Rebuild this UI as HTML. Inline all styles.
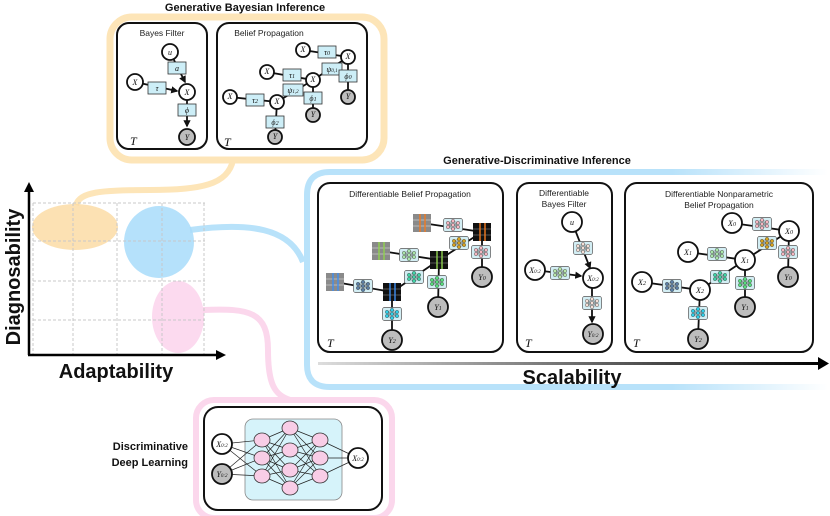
<!DOCTYPE html>
<html><head><meta charset="utf-8"><style>
html,body{margin:0;padding:0;background:#fff}
svg{display:block}
.h{font-family:"Liberation Sans",sans-serif;font-weight:bold;font-size:11px;fill:#111}
.t{font-family:"Liberation Sans",sans-serif;font-size:8.5px;fill:#222}
.big{font-family:"Liberation Sans",sans-serif;font-weight:bold;font-size:20px;fill:#111}
.v{font-family:"Liberation Serif",serif;font-style:italic;font-size:8px;fill:#111}
.T{font-family:"Liberation Serif",serif;font-style:italic;font-size:12px;fill:#111}
.n{fill:#fff;stroke:#111;stroke-width:1.8}
.o{fill:#bdbdbd;stroke:#111;stroke-width:1.8}
.e{stroke:#111;stroke-width:1.8;fill:none}
.f{fill:#cdeef7;stroke:#333;stroke-width:0.8}
.box{fill:#fff;stroke:#111;stroke-width:2}
.g{stroke:#c8c8c8;stroke-width:1;stroke-dasharray:3,2;fill:none}
</style></head><body>
<svg width="830" height="516" viewBox="0 0 830 516" xmlns="http://www.w3.org/2000/svg">
<defs>
<marker id="ar" viewBox="0 0 10 10" refX="8" refY="5" markerWidth="4" markerHeight="4" orient="auto"><path d="M0,0L10,5L0,10z" fill="#111"/></marker>
<symbol id="nn" viewBox="0 0 20 14" width="20" height="14">
<rect x="0.5" y="0.5" width="19" height="13" rx="2" fill="#d3eef4" stroke="#555" stroke-width="0.7"/>
<g stroke="#333" stroke-width="0.4"><path d="M5,5L10,3M5,5L10,7M5,5L10,11M5,9L10,3M5,9L10,7M5,9L10,11M10,3L15,5M10,7L15,5M10,11L15,5M10,3L15,9M10,7L15,9M10,11L15,9"/></g>
<g fill="currentColor" stroke="#333" stroke-width="0.4"><circle cx="5" cy="5" r="1.7"/><circle cx="5" cy="9" r="1.7"/><circle cx="10" cy="3" r="1.7"/><circle cx="10" cy="7" r="1.7"/><circle cx="10" cy="11" r="1.7"/><circle cx="15" cy="5" r="1.7"/><circle cx="15" cy="9" r="1.7"/></g>
</symbol>
<symbol id="cg" viewBox="0 0 18 18" width="18" height="18">
<rect x="0" y="0" width="18" height="18" fill="#8a8a8a"/>
<path d="M0,6H18M0,12H18" stroke="#bbb" stroke-width="1"/>
<path d="M7,0V18M12,0V18" stroke="currentColor" stroke-width="1.4"/>
</symbol>
<symbol id="cb" viewBox="0 0 18 18" width="18" height="18">
<rect x="0" y="0" width="18" height="18" fill="#111"/>
<path d="M0,6H18M0,12H18" stroke="#555" stroke-width="1"/>
<path d="M7,0V18M12,0V18" stroke="currentColor" stroke-width="1.4"/>
</symbol>
<linearGradient id="sg" x1="0" x2="1"><stop offset="0" stop-color="#ddd"/><stop offset="1" stop-color="#000"/></linearGradient>
<linearGradient id="bg" x1="0" x2="1"><stop offset="0.7" stop-color="#b8e2fa"/><stop offset="1" stop-color="#b8e2fa" stop-opacity="0"/></linearGradient>
</defs>

<rect x="110" y="17" width="274" height="143" rx="22" fill="none" stroke="#fde5b8" stroke-width="7"/>
<path d="M233,160 C228,185 200,190 150,190 C100,190 80,192 76,205" fill="none" stroke="#fde5b8" stroke-width="6"/>
<path d="M828,172 H330 Q307,172 307,195 V365 Q307,387 330,387 H828" fill="none" stroke="url(#bg)" stroke-width="6"/>
<path d="M190,230 C250,222 290,228 303,262" fill="none" stroke="#b8e2fa" stroke-width="6"/>
<path d="M203,310 C250,308 268,312 268,350 C268,385 275,395 290,400" fill="none" stroke="#fbd7ec" stroke-width="6"/>
<rect x="196" y="400" width="196" height="118" rx="18" fill="none" stroke="#fbd7ec" stroke-width="6"/>

<text class="h" x="245" y="11" text-anchor="middle">Generative Bayesian Inference</text>
<text class="h" x="537" y="164" text-anchor="middle">Generative-Discriminative Inference</text>

<rect class="box" x="117" y="23" width="90" height="126" rx="12"/>
<text class="t" x="162" y="36" text-anchor="middle">Bayes Filter</text>
<line class="e" x1="170" y1="52" x2="185" y2="82" marker-end="url(#ar)"/>
<line class="e" x1="135" y1="82" x2="177" y2="91" marker-end="url(#ar)"/>
<line class="e" x1="187" y1="92" x2="187" y2="126" marker-end="url(#ar)"/>
<rect class="f" x="168" y="62" width="18" height="12"/><text class="v" x="177" y="71" text-anchor="middle" font-size="10">a</text>
<rect class="f" x="148" y="82" width="18" height="12"/><text class="v" x="157" y="91" text-anchor="middle" font-size="10">τ</text>
<rect class="f" x="178" y="104" width="18" height="12"/><text class="v" x="187" y="113" text-anchor="middle" font-size="10">ϕ</text>
<circle class="n" cx="170" cy="52" r="8"/><text class="v" x="170" y="55" text-anchor="middle">u</text>
<circle class="n" cx="135" cy="82" r="8"/><text class="v" x="135" y="85" text-anchor="middle" font-size="6">X</text>
<circle class="n" cx="187" cy="92" r="8"/><text class="v" x="187" y="95" text-anchor="middle" font-size="6">X</text>
<circle class="o" cx="187" cy="137" r="8"/><text class="v" x="187" y="140" text-anchor="middle" font-size="6">Y</text>
<text class="T" x="130" y="145">T</text>

<rect class="box" x="217" y="23" width="150" height="126" rx="12"/>
<text class="t" x="269" y="36" text-anchor="middle">Belief Propagation</text>
<path class="e" d="M303,50L348,57L348,97M348,57L313,80L267,72M313,80L313,115M313,80L277,102L230,97M277,102L275,137"/>
<rect class="f" x="318" y="46" width="18" height="12"/><text class="v" x="327" y="55" text-anchor="middle" font-size="9">τ<tspan font-size="6">0</tspan></text>
<rect class="f" x="322" y="63" width="20" height="12"/><text class="v" x="332" y="72" text-anchor="middle" font-size="8">ψ<tspan font-size="5">0,1</tspan></text>
<rect class="f" x="339" y="70" width="18" height="12"/><text class="v" x="348" y="79" text-anchor="middle" font-size="9">ϕ<tspan font-size="6">0</tspan></text>
<rect class="f" x="283" y="69" width="18" height="12"/><text class="v" x="292" y="78" text-anchor="middle" font-size="9">τ<tspan font-size="6">1</tspan></text>
<rect class="f" x="283" y="84" width="20" height="12"/><text class="v" x="293" y="93" text-anchor="middle" font-size="8">ψ<tspan font-size="5">1,2</tspan></text>
<rect class="f" x="304" y="92" width="18" height="12"/><text class="v" x="313" y="101" text-anchor="middle" font-size="9">ϕ<tspan font-size="6">1</tspan></text>
<rect class="f" x="246" y="94" width="18" height="12"/><text class="v" x="255" y="103" text-anchor="middle" font-size="9">τ<tspan font-size="6">2</tspan></text>
<rect class="f" x="266" y="116" width="18" height="12"/><text class="v" x="275" y="125" text-anchor="middle" font-size="9">ϕ<tspan font-size="6">2</tspan></text>
<circle class="n" cx="303" cy="50" r="7"/><circle class="n" cx="348" cy="57" r="7"/><circle class="o" cx="348" cy="97" r="7"/>
<circle class="n" cx="267" cy="72" r="7"/><circle class="n" cx="313" cy="80" r="7"/><circle class="o" cx="313" cy="115" r="7"/>
<circle class="n" cx="230" cy="97" r="7"/><circle class="n" cx="277" cy="102" r="7"/><circle class="o" cx="275" cy="137" r="7"/>
<g class="v" font-size="6" text-anchor="middle"><text x="303" y="52">X</text><text x="348" y="59">X</text><text x="348" y="99">Y</text><text x="267" y="74">X</text><text x="313" y="82">X</text><text x="313" y="117">Y</text><text x="230" y="99">X</text><text x="277" y="104">X</text><text x="275" y="139">Y</text></g>
<text class="T" x="224" y="146">T</text>

<ellipse cx="75" cy="227" rx="43" ry="23" fill="#fbd9a0" opacity="0.8"/>
<ellipse cx="159" cy="242" rx="35" ry="36" fill="#a8dcfa" opacity="0.85"/>
<ellipse cx="178" cy="317" rx="26" ry="36" fill="#fbd3ec" opacity="0.85"/>
<g class="g"><path d="M33,203V354M73,203V354M117,203V354M162,203V354M204,203V354M33,203H205M33,241H205M33,281H205M33,320H205"/></g>
<path d="M29,355V190M28,355H218" stroke="#000" stroke-width="2.5" fill="none"/>
<path d="M24,192L29,182L34,192z M216,350L226,355L216,360z" fill="#000"/>
<text class="big" transform="translate(20,277) rotate(-90)" text-anchor="middle">Diagnosability</text>
<text class="big" x="116" y="378" text-anchor="middle">Adaptability</text>

<rect x="318" y="362" width="505" height="3" fill="url(#sg)"/>
<path d="M818,357L829,363.5L818,370z" fill="#000"/>
<text class="big" x="572" y="384" text-anchor="middle">Scalability</text>

<rect class="box" x="318" y="183" width="185" height="169" rx="12"/>
<text class="t" x="410" y="197" text-anchor="middle">Differentiable Belief Propagation</text>
<path class="e" d="M422,223L482,232L482,275M482,232L439,260L381,251M439,260L438,307M439,260L392,292L335,282M392,292L392,338"/>
<use href="#cg" x="413" y="214" style="color:#f07a20"/><use href="#cb" x="473" y="223" style="color:#f07a20"/>
<use href="#cg" x="372" y="242" style="color:#8fd14f"/><use href="#cb" x="430" y="251" style="color:#8fd14f"/>
<use href="#cg" x="326" y="273" style="color:#3e8ef0"/><use href="#cb" x="383" y="283" style="color:#3e8ef0"/>
<use href="#nn" x="443" y="218" style="color:#f6b6c0"/><use href="#nn" x="449" y="236" style="color:#d9a21b"/><use href="#nn" x="471" y="245" style="color:#f6b6c0"/>
<use href="#nn" x="399" y="248" style="color:#a9e6a9"/><use href="#nn" x="404" y="270" style="color:#3fd6a8"/><use href="#nn" x="427" y="275" style="color:#55e07a"/>
<use href="#nn" x="353" y="279" style="color:#5a7fa6"/><use href="#nn" x="382" y="307" style="color:#2ad0ea"/>
<circle class="o" cx="482" cy="277" r="10"/><circle class="o" cx="438" cy="307" r="10"/><circle class="o" cx="392" cy="340" r="10"/>
<g class="v" text-anchor="middle" font-size="9"><text x="482" y="280">Y<tspan font-size="6">0</tspan></text><text x="438" y="310">Y<tspan font-size="6">1</tspan></text><text x="392" y="343">Y<tspan font-size="6">2</tspan></text></g>
<text class="T" x="327" y="347">T</text>

<rect class="box" x="517" y="183" width="95" height="169" rx="12"/>
<text class="t" x="564" y="196" text-anchor="middle">Differentiable</text>
<text class="t" x="564" y="207" text-anchor="middle">Bayes Filter</text>
<line class="e" x1="572" y1="222" x2="590" y2="268" marker-end="url(#ar)"/>
<line class="e" x1="535" y1="270" x2="581" y2="276" marker-end="url(#ar)"/>
<line class="e" x1="592" y1="278" x2="592" y2="322" marker-end="url(#ar)"/>
<use href="#nn" x="573" y="241" style="color:#f5dfd6"/><use href="#nn" x="550" y="266" style="color:#b9e8a8"/><use href="#nn" x="582" y="296" style="color:#f5dfd6"/>
<circle class="n" cx="572" cy="222" r="10"/><text class="v" x="572" y="225" text-anchor="middle" font-size="10">u</text>
<circle class="n" cx="535" cy="270" r="10"/><text class="v" x="535" y="273" text-anchor="middle">X<tspan font-size="5">0:2</tspan></text>
<circle class="n" cx="593" cy="278" r="10"/><text class="v" x="593" y="281" text-anchor="middle">X<tspan font-size="5">0:2</tspan></text>
<circle class="o" cx="593" cy="334" r="10"/><text class="v" x="593" y="337" text-anchor="middle">Y<tspan font-size="5">0:2</tspan></text>
<text class="T" x="525" y="347">T</text>

<rect class="box" x="625" y="183" width="188" height="169" rx="12"/>
<text class="t" x="719" y="197" text-anchor="middle">Differentiable Nonparametric</text>
<text class="t" x="719" y="208" text-anchor="middle">Belief Propagation</text>
<path class="e" d="M732,223L789,231L788,275M789,231L745,260L688,252M745,260L745,307M745,260L700,290L642,282M700,290L698,337"/>
<use href="#nn" x="752" y="217" style="color:#f6b6c0"/><use href="#nn" x="757" y="236" style="color:#d9a21b"/><use href="#nn" x="778" y="245" style="color:#f6b6c0"/>
<use href="#nn" x="707" y="247" style="color:#a9e6a9"/><use href="#nn" x="710" y="270" style="color:#3fd6a8"/><use href="#nn" x="735" y="276" style="color:#55e07a"/>
<use href="#nn" x="662" y="279" style="color:#5a7fa6"/><use href="#nn" x="688" y="306" style="color:#2ad0ea"/>
<circle class="n" cx="732" cy="223" r="10"/><circle class="n" cx="789" cy="231" r="10"/><circle class="o" cx="788" cy="277" r="10"/>
<circle class="n" cx="688" cy="252" r="10"/><circle class="n" cx="745" cy="260" r="10"/><circle class="o" cx="745" cy="307" r="10"/>
<circle class="n" cx="642" cy="282" r="10"/><circle class="n" cx="700" cy="290" r="10"/><circle class="o" cx="698" cy="339" r="10"/>
<g class="v" text-anchor="middle" font-size="9"><text x="732" y="226">X<tspan font-size="6">0</tspan></text><text x="789" y="234">X<tspan font-size="6">0</tspan></text><text x="788" y="280">Y<tspan font-size="6">0</tspan></text><text x="688" y="255">X<tspan font-size="6">1</tspan></text><text x="745" y="263">X<tspan font-size="6">1</tspan></text><text x="745" y="310">Y<tspan font-size="6">1</tspan></text><text x="642" y="285">X<tspan font-size="6">2</tspan></text><text x="700" y="293">X<tspan font-size="6">2</tspan></text><text x="698" y="342">Y<tspan font-size="6">2</tspan></text></g>
<text class="T" x="633" y="347">T</text>

<text class="h" x="188" y="450" text-anchor="end">Discriminative</text>
<text class="h" x="188" y="466" text-anchor="end">Deep Learning</text>
<rect class="box" x="204" y="407" width="178" height="103" rx="14"/>
<rect x="245" y="419" width="97" height="81" rx="8" fill="#d6f3fa" stroke="#888" stroke-width="0.8"/>
<g stroke="#222" stroke-width="0.7">
<path d="M222,444L262,440M222,444L262,458M222,444L262,476M222,474L262,440M222,474L262,458M222,474L262,476"/>
<path d="M262,440L290,428M262,440L290,450M262,440L290,470M262,440L290,488M262,458L290,428M262,458L290,450M262,458L290,470M262,458L290,488M262,476L290,428M262,476L290,450M262,476L290,470M262,476L290,488"/>
<path d="M290,428L320,440M290,428L320,458M290,428L320,476M290,450L320,440M290,450L320,458M290,450L320,476M290,470L320,440M290,470L320,458M290,470L320,476M290,488L320,440M290,488L320,458M290,488L320,476"/>
<path d="M320,440L358,458M320,458L358,458M320,476L358,458"/>
</g>
<g fill="#f8cde6" stroke="#333" stroke-width="0.8">
<ellipse cx="262" cy="440" rx="8" ry="7"/><ellipse cx="262" cy="458" rx="8" ry="7"/><ellipse cx="262" cy="476" rx="8" ry="7"/>
<ellipse cx="290" cy="428" rx="8" ry="7"/><ellipse cx="290" cy="450" rx="8" ry="7"/><ellipse cx="290" cy="470" rx="8" ry="7"/><ellipse cx="290" cy="488" rx="8" ry="7"/>
<ellipse cx="320" cy="440" rx="8" ry="7"/><ellipse cx="320" cy="458" rx="8" ry="7"/><ellipse cx="320" cy="476" rx="8" ry="7"/>
</g>
<circle class="n" cx="222" cy="444" r="10"/><text class="v" x="222" y="447" text-anchor="middle">X<tspan font-size="5">0:2</tspan></text>
<circle class="o" cx="222" cy="474" r="10"/><text class="v" x="222" y="477" text-anchor="middle">Y<tspan font-size="5">0:2</tspan></text>
<circle class="n" cx="358" cy="458" r="10"/><text class="v" x="358" y="461" text-anchor="middle">X<tspan font-size="5">0:2</tspan></text>
</svg>
</body></html>
